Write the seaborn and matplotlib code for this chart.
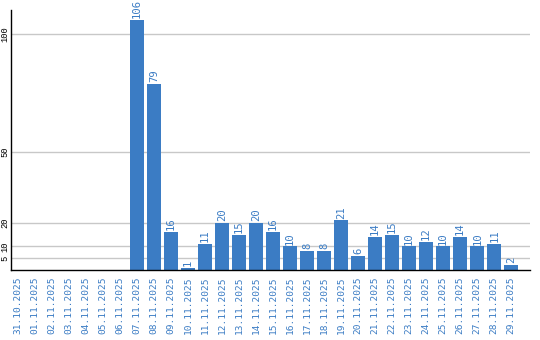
import matplotlib
matplotlib.use("Agg")
import matplotlib.pyplot as plt
import seaborn as sns
import pandas as pd

dates = ["31.10.2025", "01.11.2025", "02.11.2025", "03.11.2025", "04.11.2025",
         "05.11.2025", "06.11.2025", "07.11.2025", "08.11.2025", "09.11.2025",
         "10.11.2025", "11.11.2025", "12.11.2025", "13.11.2025", "14.11.2025",
         "15.11.2025", "16.11.2025", "17.11.2025", "18.11.2025", "19.11.2025",
         "20.11.2025", "21.11.2025", "22.11.2025", "23.11.2025", "24.11.2025",
         "25.11.2025", "26.11.2025", "27.11.2025", "28.11.2025", "29.11.2025"]
values = [0, 0, 0, 0, 0, 0, 0, 106, 79, 16, 1, 11, 20, 15, 20, 16, 10, 8, 8, 21,
          6, 14, 15, 10, 12, 10, 14, 10, 11, 2]
y_ticks = [5, 10, 20, 50, 100]

BLUE = "#3b7cc4"
df = pd.DataFrame({"date": dates, "value": values})

sns.set_style("white")
fig = plt.figure(figsize=(5.4, 3.4), dpi=100)
ax = fig.add_axes([11 / 540, 1 - 270 / 340, (530 - 11) / 540, 260 / 340])

sns.barplot(data=df, x="date", y="value", color=BLUE, saturation=1, width=0.8,
            linewidth=0, edgecolor="none", ax=ax, zorder=3)

ax.set_xlim(-0.4, 30.1)
ax.set_ylim(0, 110.2)
ax.set_yticks(y_ticks)
ax.set_yticklabels([str(t) for t in y_ticks], rotation=90, va="center",
                   family="Liberation Mono", fontsize=6.3, color="black")
ax.set_xticks(range(len(dates)))
ax.set_xticklabels(dates, rotation=90, va="top", ha="center",
                   family="DejaVu Sans Mono", fontsize=6.8, color=BLUE)
ax.tick_params(axis="x", length=0, pad=5)
ax.tick_params(axis="y", length=0, pad=1)
ax.set_xlabel("")
ax.set_ylabel("")

for t in y_ticks:
    ax.axhline(t, color="#c8c8c8", lw=1, zorder=1)

for i, v in enumerate(values):
    if v > 0:
        ax.text(i, v + 0.8, str(v), rotation=90, ha="center", va="bottom",
                family="DejaVu Sans Mono", fontsize=7.6, color=BLUE)

for s in ["top", "right"]:
    ax.spines[s].set_visible(False)
for s in ["left", "bottom"]:
    ax.spines[s].set_color("black")
    ax.spines[s].set_linewidth(1.0)
    ax.spines[s].set_zorder(4)

fig.savefig("out.png", dpi=100)
